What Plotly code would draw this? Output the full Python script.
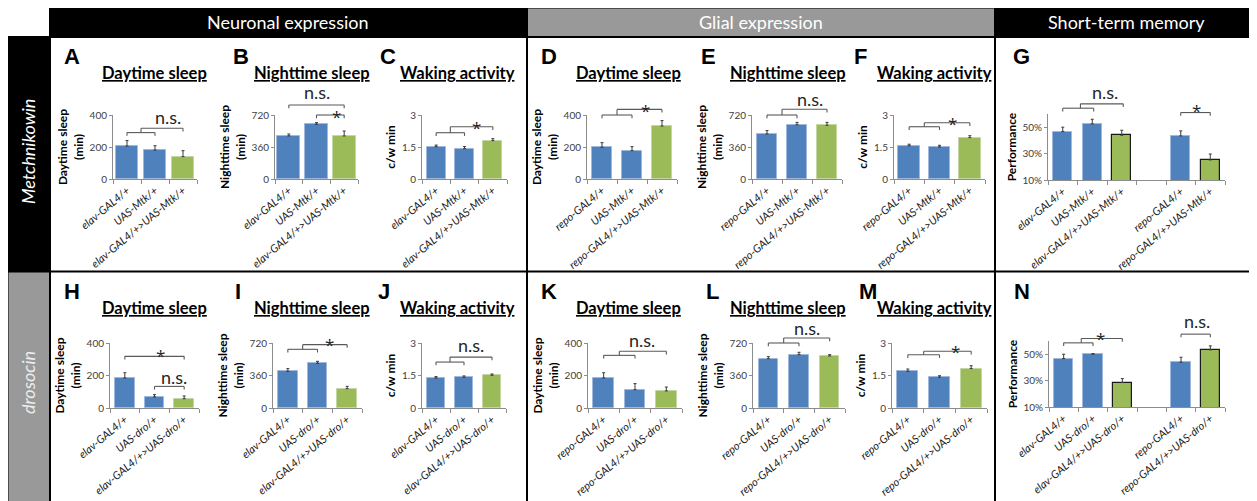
import plotly.graph_objects as go

# page is rendered with an 8px body margin: figure coordinates are shifted accordingly
OFF = 8
W, H = 1257 - OFF, 501 - OFF

# ---------------- data ----------------
elav_mtk = ["elav-GAL4/+", "UAS-Mtk/+", "elav-GAL4/+>UAS-Mtk/+"]
repo_mtk = ["repo-GAL4/+", "UAS-Mtk/+", "repo-GAL4/+>UAS-Mtk/+"]
elav_dro = ["elav-GAL4/+", "UAS-dro/+", "elav-GAL4/+>UAS-dro/+"]
repo_dro = ["repo-GAL4/+", "UAS-dro/+", "repo-GAL4/+>UAS-dro/+"]
mem_mtk = ["elav-GAL4/+", "UAS-Mtk/+", "elav-GAL4/+>UAS-Mtk/+", "repo-GAL4/+", "repo-GAL4/+>UAS-Mtk/+"]
mem_dro = ["elav-GAL4/+", "UAS-dro/+", "elav-GAL4/+>UAS-dro/+", "repo-GAL4/+", "repo-GAL4/+>UAS-dro/+"]

A_day = [206, 181, 140];        A_err = [34, 27, 37]
B_night = [484, 615, 484];      B_err = [22, 19, 56]
C_wake = [1.52, 1.42, 1.80];    C_err = [0.07, 0.10, 0.09]
D_day = [198, 177, 331];        D_err = [29, 25, 34]
E_night = [506, 611, 604];      E_err = [38, 26, 33]
F_wake = [1.56, 1.50, 1.94];    F_err = [0.07, 0.08, 0.09]
G_perf = [46.7, 52.5, 43.9, 43.4, 25.2]; G_err = [3.3, 3.5, 3.8, 3.8, 4.5]
H_day = [185, 68, 57];          H_err = [32, 14, 17]
I_night = [406, 495, 214];      I_err = [30, 22, 26]
J_wake = [1.38, 1.415, 1.51];   J_err = [0.07, 0.065, 0.06]
K_day = [185, 113, 105];        K_err = [32, 37, 24]
L_night = [546, 591, 576];      L_err = [23, 26, 15]
M_wake = [1.69, 1.42, 1.82];    M_err = [0.11, 0.07, 0.13]
N_perf = [46.7, 50.0, 28.5, 43.9, 53.3]; N_err = [3.3, 0.4, 3.0, 3.8, 3.0]

day_ticks = [0, 200, 400]
night_ticks = [0, 360, 720]
wake_ticks = [0, 1.5, 3]
perf_ticks = [10, 30, 50]

BLUE = "#4F81BD"
GREEN = "#9BBB59"
FONT = "Lato"


def X(px):
    return (px - OFF) / W


def Y(py):
    return 1 - (py - OFF) / H


# significance brackets: ("combo", x0, x1, ylow, xu0, xu1, yup) or ("pair", x0, x1, y)
panels = [
    dict(L="A", title="Daytime sleep", yt="Daytime sleep<br>(min)", cats=elav_mtk, v=A_day, e=A_err,
         rng=[0, 400], ticks=day_ticks, box=(113, 197), row=0, bw=0.82, lx=72, tx=154,
         br=[("combo", 0, 1, 290, 0.5, 2, 317)], lab=[(1.46, 390, "n.s.")]),
    dict(L="B", title="Nighttime sleep", yt="Nighttime sleep<br>(min)", cats=elav_mtk, v=B_night, e=B_err,
         rng=[0, 720], ticks=night_ticks, box=(275, 358), row=0, bw=0.84, lx=241, tx=312,
         br=[("pair", 0, 2, 832), ("pair", 1, 2, 720)], lab=[(1.0, 983, "n.s."), (1.73, 746, "*")]),
    dict(L="C", title="Waking activity", yt="c/w min", cats=elav_mtk, v=C_wake, e=C_err,
         rng=[0, 3], ticks=wake_ticks, box=(422, 507), row=0, bw=0.67, lx=388, tx=457,
         br=[("combo", 0, 1, 2.17, 0.5, 2, 2.45)], lab=[(1.43, 2.61, "*")]),
    dict(L="D", title="Daytime sleep", yt="Daytime sleep<br>(min)", cats=repo_mtk, v=D_day, e=D_err,
         rng=[0, 400], ticks=day_ticks, box=(587, 677), row=0, bw=0.64, lx=549, tx=628,
         br=[("combo", 0, 1, 400, 0.5, 2, 435)], lab=[(1.44, 456, "*")]),
    dict(L="E", title="Nighttime sleep", yt="Nighttime sleep<br>(min)", cats=repo_mtk, v=E_night, e=E_err,
         rng=[0, 720], ticks=night_ticks, box=(752, 842), row=0, bw=0.64, lx=708, tx=788,
         br=[("combo", 0, 1, 720, 0.5, 2, 784)], lab=[(1.44, 896, "n.s.")]),
    dict(L="F", title="Waking activity", yt="c/w min", cats=repo_mtk, v=F_wake, e=F_err,
         rng=[0, 3], ticks=wake_ticks, box=(894, 985), row=0, bw=0.72, lx=860, tx=934,
         br=[("combo", 0, 1, 2.45, 0.5, 2, 2.64)], lab=[(1.43, 2.81, "*")]),
    dict(L="G", title=None, yt="Performance", cats=mem_mtk, v=G_perf, e=G_err,
         rng=[10, 60], ticks=perf_ticks, box=(1048, 1225), row=0, bw=0.66, lx=1021, tx=None,
         br=[("combo", 0, 1.05, 64.4, 0.6, 2.05, 67.7), ("pair", 4, 5, 61.1)],
         lab=[(1.43, 77, "n.s."), (4.54, 65.7, "*")]),
    dict(L="H", title="Daytime sleep", yt="Daytime sleep<br>(min)", cats=elav_dro, v=H_day, e=H_err,
         rng=[0, 400], ticks=day_ticks, box=(110, 199), row=1, bw=0.67, lx=72, tx=154,
         br=[("pair", 0, 2, 318), ("pair", 1, 2, 133)], lab=[(1.19, 345, "*"), (1.66, 191, "n.s.")]),
    dict(L="I", title="Nighttime sleep", yt="Nighttime sleep<br>(min)", cats=elav_dro, v=I_night, e=I_err,
         rng=[0, 720], ticks=night_ticks, box=(273, 362), row=1, bw=0.66, lx=238, tx=312,
         br=[("combo", 0, 1, 650, 0.5, 2, 702)], lab=[(1.39, 750, "*")]),
    dict(L="J", title="Waking activity", yt="c/w min", cats=elav_dro, v=J_wake, e=J_err,
         rng=[0, 3], ticks=wake_ticks, box=(422, 506), row=1, bw=0.65, lx=384, tx=457,
         br=[("combo", 0, 1, 2.12, 0.5, 2, 2.35)], lab=[(1.26, 2.92, "n.s.")]),
    dict(L="K", title="Daytime sleep", yt="Daytime sleep<br>(min)", cats=repo_dro, v=K_day, e=K_err,
         rng=[0, 400], ticks=day_ticks, box=(588, 682), row=1, bw=0.65, lx=549, tx=628,
         br=[("combo", 0, 1, 324, 0.5, 2, 349)], lab=[(1.21, 416, "n.s.")]),
    dict(L="L", title="Nighttime sleep", yt="Nighttime sleep<br>(min)", cats=repo_dro, v=L_night, e=L_err,
         rng=[0, 720], ticks=night_ticks, box=(753, 845), row=1, bw=0.63, lx=712, tx=788,
         br=[("combo", 0, 1, 720, 0.5, 2, 775)], lab=[(1.27, 890, "n.s.")]),
    dict(L="M", title="Waking activity", yt="c/w min", cats=repo_dro, v=M_wake, e=M_err,
         rng=[0, 3], ticks=wake_ticks, box=(892, 987), row=1, bw=0.66, lx=868, tx=934,
         br=[("combo", 0, 1, 2.46, 0.5, 2, 2.62)], lab=[(1.5, 2.78, "*")]),
    dict(L="N", title=None, yt="Performance", cats=mem_dro, v=N_perf, e=N_err,
         rng=[10, 60], ticks=perf_ticks, box=(1049, 1225), row=1, bw=0.66, lx=1022, tx=None,
         br=[("combo", 0, 1.0, 58.6, 0.6, 2, 61.9), ("pair", 4, 5, 65.2)],
         lab=[(1.26, 64.9, "*"), (4.56, 75.3, "n.s.")]),
]

# row geometry (pixel): y of range min, y of range max, letter y, title y
ROWS = [dict(ybot=179, ytop=115, ly=56, ty=72.5, pbot=180, ptop=114),
        dict(ybot=408, ytop=343, ly=291, ty=307.5, pbot=407, ptop=341)]

fig = go.Figure()
shapes = []
annotations = []
layout = {}

BR_COLOR = "#595959"
TICKPX = 3.2

for k, p in enumerate(panels, start=1):
    xa = "x" if k == 1 else f"x{k}"
    ya = "y" if k == 1 else f"y{k}"
    xname = "xaxis" if k == 1 else f"xaxis{k}"
    yname = "yaxis" if k == 1 else f"yaxis{k}"
    row = ROWS[p["row"]]
    memory = p["yt"] == "Performance"
    if memory:
        pos = [0, 1, 2, 4, 5]
        n = 6
        ybot, ytop = row["pbot"], row["ptop"]
    else:
        pos = list(range(len(p["v"])))
        n = len(p["v"])
        ybot, ytop = row["ybot"], row["ytop"]
    ncat = len(p["v"])
    green_idx = [ncat - 1] if not memory else [2, 4]
    colors = [GREEN if i in green_idx else BLUE for i in range(ncat)]
    if memory:
        edges = ["#1a1a1a" if i in green_idx else "#9fb8db" for i in range(ncat)]
        ew = [1.2 if i in green_idx else 1 for i in range(ncat)]
    else:
        edges = ["#c5d6a5" if i in green_idx else "#9fb8db" for i in range(ncat)]
        ew = [1] * ncat

    fig.add_trace(go.Bar(
        x=pos, y=p["v"], width=p["bw"], xaxis=xa, yaxis=ya,
        marker=dict(color=colors, line=dict(color=edges, width=ew)),
        error_y=dict(type="data", array=p["e"], arrayminus=[0] * ncat, symmetric=False,
                     color="#3a3a3a", thickness=1, width=1.5),
        showlegend=False, hoverinfo="skip"))

    if memory:
        ticktext = [f"{t}%" for t in p["ticks"]]
    else:
        ticktext = [("%g" % t) for t in p["ticks"]]

    layout[xname] = dict(
        domain=[X(p["box"][0]), X(p["box"][1])], range=[-0.5, n - 0.5], anchor=ya,
        automargin=False,
        tickmode="array", tickvals=pos, ticktext=p["cats"], tickangle=-40,
        tickfont=dict(family=FONT, size=11, style="italic", color="#1a1a1a"),
        showline=True, linecolor="#8c8c8c", linewidth=1, ticks="",
        minor=dict(tickmode="array", tickvals=[i - 0.5 for i in range(n + 1)], ticks="outside",
                   ticklen=4, tickcolor="#8c8c8c", showgrid=False),
        showgrid=False, zeroline=False, fixedrange=True)
    layout[yname] = dict(
        domain=[Y(ybot), Y(ytop)], range=p["rng"], anchor=xa, automargin=False,
        tickmode="array", tickvals=p["ticks"], ticktext=ticktext,
        tickfont=dict(family=FONT, size=10, color="#404040"),
        showline=True, linecolor="#8c8c8c", linewidth=1, ticks="outside", ticklen=3,
        tickcolor="#8c8c8c", showgrid=False, zeroline=False, fixedrange=True,
        title=dict(text=p["yt"], standoff=3,
                   font=dict(family=FONT, size=12, color="black", weight="bold")))

    axis_h = ybot - ytop
    r0, r1 = p["rng"]
    fx = lambda v, n=n: (v + 0.5) / n
    fy = lambda v, r0=r0, r1=r1: (v - r0) / (r1 - r0)
    tk = TICKPX / axis_h
    xref = f"{xa} domain"
    yref = f"{ya} domain"

    def seg(x0, y0, x1, y1):
        shapes.append(dict(type="line", xref=xref, yref=yref, x0=x0, y0=y0, x1=x1, y1=y1,
                           line=dict(color=BR_COLOR, width=1.1)))

    for b in p["br"]:
        if b[0] == "pair":
            _, a0, a1, yv = b
            yy = fy(yv)
            seg(fx(a0), yy, fx(a1), yy)
            seg(fx(a0), yy, fx(a0), yy - tk)
            seg(fx(a1), yy, fx(a1), yy - tk)
        else:
            _, a0, a1, ylo, u0, u1, yup = b
            yl, yu = fy(ylo), fy(yup)
            seg(fx(a0), yl, fx(a1), yl)
            seg(fx(a0), yl, fx(a0), yl - tk)
            seg(fx(a1), yl, fx(a1), yl - tk)
            seg(fx(u0), yu, fx(u1), yu)
            seg(fx(u0), yu, fx(u0), yl)
            seg(fx(u1), yu, fx(u1), yu - tk)
    for (lxv, lyv, txt) in p["lab"]:
        star = txt == "*"
        annotations.append(dict(xref=xref, yref=yref, x=fx(lxv), y=fy(lyv), text=txt,
                                showarrow=False, xanchor="center", yanchor="middle",
                                yshift=-4 if star else 0,
                                font=dict(family="Open Sans" if star else FONT, size=17 if star else 18,
                                          color="#262626")))

    # panel letter
    annotations.append(dict(xref="paper", yref="paper", x=X(p["lx"]), y=Y(row["ly"]), text=p["L"],
                            showarrow=False, xanchor="center", yanchor="middle",
                            font=dict(family="Liberation Sans", size=22, color="black", weight="bold")))
    if p["title"]:
        annotations.append(dict(xref="paper", yref="paper", x=X(p["tx"]), y=Y(row["ty"]),
                                text=f"<b><span style='text-decoration:underline'>{p['title']}</span></b>",
                                showarrow=False, xanchor="center", yanchor="middle",
                                font=dict(family=FONT, size=16.5, color="black")))

# ---------------- frame / headers ----------------
def rect(x0, y0, x1, y1, fill, lw=0, lc="black"):
    shapes.append(dict(type="rect", xref="paper", yref="paper", x0=X(x0), x1=X(x1), y0=Y(y1), y1=Y(y0),
                       fillcolor=fill, line=dict(width=lw, color=lc), layer="above"))


def line(x0, y0, x1, y1, w=2):
    shapes.append(dict(type="line", xref="paper", yref="paper", x0=X(x0), x1=X(x1), y0=Y(y0), y1=Y(y1),
                       line=dict(color="black", width=w), layer="above"))


# cover overflowing row-1 tick labels below the row divider
rect(51, 272.5, 1254, 296, "white")
rect(50, 7, 527, 37, "black")
rect(527, 7, 995, 37, "#999999")
rect(995, 7, 1257, 37, "black")
rect(7, 37, 50, 271.5, "black")
rect(7, 271.5, 50, 501, "#999999")
line(50, 7.5, 1257, 7.5)
line(7, 37, 1257, 37)
line(7, 271.5, 1255, 271.5)
line(7.5, 37, 7.5, 501)
line(50, 7, 50, 501)
line(527, 7, 527, 501)
line(995, 7, 995, 501)
line(1255, 37, 1255, 501)

for txt, cx, col in [("Neuronal expression", 288, "white"), ("Glial expression", 761, "white"),
                     ("Short-term memory", 1126, "white")]:
    annotations.append(dict(xref="paper", yref="paper", x=X(cx), y=Y(22), text=txt, showarrow=False,
                            xanchor="center", yanchor="middle",
                            font=dict(family=FONT, size=18, color=col)))
annotations.append(dict(xref="paper", yref="paper", x=X(28), y=Y(152), text="<i>Metchnikowin</i>",
                        showarrow=False, textangle=-90, xanchor="center", yanchor="middle",
                        font=dict(family=FONT, size=18, color="white")))
annotations.append(dict(xref="paper", yref="paper", x=X(28), y=Y(383), text="<i>drosocin</i>",
                        showarrow=False, textangle=-90, xanchor="center", yanchor="middle",
                        font=dict(family=FONT, size=18, color="#ececec")))

fig.update_layout(width=W, height=H, margin=dict(l=0, r=0, t=0, b=0, pad=0, autoexpand=False),
                  paper_bgcolor="white",
                  plot_bgcolor="white", shapes=shapes, annotations=annotations, bargap=0,
                  showlegend=False, **layout)

fig.write_html("out.html")
